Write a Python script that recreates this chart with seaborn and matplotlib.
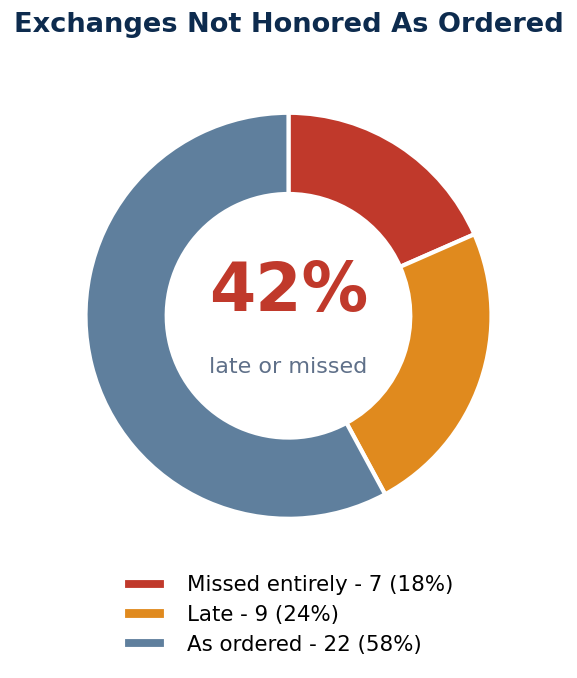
import matplotlib
matplotlib.use('Agg')
import matplotlib.pyplot as plt
import seaborn as sns

# Data
categories = ['Missed entirely', 'Late', 'As ordered']
counts = [7, 9, 22]
colors = ['#c0392b', '#e08a1e', '#5f7f9d']

total = sum(counts)
pcts = [round(c / total * 100) for c in counts]
labels = [f'{cat} - {c} ({p}%)' for cat, c, p in zip(categories, counts, pcts)]
late_or_missed = round((counts[0] + counts[1]) / total * 100)

sns.set_theme(style='white')
plt.rcParams['font.family'] = ['DejaVu Sans']

fig = plt.figure(figsize=(5.77, 6.78), dpi=100)
ax = fig.add_axes([0.04, 0.16, 0.92, 0.7485])

wedges, _ = ax.pie(counts, colors=colors, startangle=90, counterclock=False,
                   wedgeprops=dict(width=0.4, edgecolor='white', linewidth=3))
ax.set_aspect('equal')

ax.text(0, 0.115, f'{late_or_missed}%', ha='center', va='center',
        fontsize=48, fontweight='bold', color='#c0392b')
ax.text(0, -0.25, 'late or missed', ha='center', va='center',
        fontsize=16, color='#5f7089')

fig.suptitle('Exchanges Not Honored As Ordered', fontsize=19.6, fontweight='bold',
             color='#0d2b4e', y=0.982)

leg = fig.legend(wedges, labels, loc='lower center', bbox_to_anchor=(0.5, 0.006),
                 frameon=False, fontsize=15.4, handlelength=2.0, handleheight=0.5,
                 labelspacing=0.45, handletextpad=1.0)
for t in leg.get_texts():
    t.set_color('black')

fig.savefig('out.png', dpi=100)
